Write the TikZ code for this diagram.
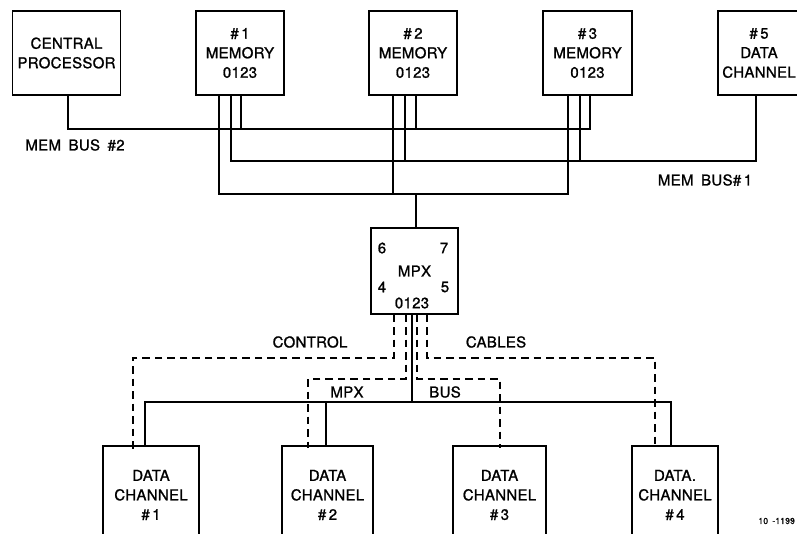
\documentclass[tikz,border=0pt]{standalone}
\usepackage{fontspec}
\newfontfamily\lab{TeX Gyre Heros}[FakeBold=1.2, WordSpace=1.7, LetterSpace=2]
\begin{document}
\begin{tikzpicture}[x=1pt,y=-1pt,
  txt/.style={font=\lab\fontsize{15}{19.5}\selectfont, align=center, inner sep=0pt},
  box/.style={txt, draw, line width=1.1pt, minimum height=84pt},
  dcbox/.style={txt, draw, line width=1.1pt, minimum height=98pt},
  wire/.style={line width=1.1pt},
  dwire/.style={line width=1.1pt, dash pattern=on 7.5pt off 5pt},
  small/.style={font=\lab\fontsize{8.5}{10}\selectfont, inner sep=0pt}]
\clip (0,0) rectangle (797,533);
% top row
\node[box, minimum width=108pt] (cp) at (66.5,53) {CENTRAL\\PROCESSOR};
\node[box, minimum width=88pt] (m1) at (240,53) {\#\,1\\MEMORY\\0123};
\node[box, minimum width=88pt] (m2) at (413,53) {\#\,2\\MEMORY\\0123};
\node[box, minimum width=89pt] (m3) at (587.5,53) {\#\,3\\MEMORY\\0123};
\node[box, minimum width=82pt] (dc5) at (759,53) {\#\,5\\DATA\\CHANNEL};
% MPX
\node[box, minimum width=87pt, minimum height=86pt] (mpx) at (414.5,271) {MPX};
\node[txt] (p6) at (382,248) {6};
\node[txt] (p7) at (444,248) {7};
\node[txt] (p4) at (382,287) {4};
\node[txt] (p5) at (445,287) {5};
\node[txt] (p0) at (412,303) {0123};
% bottom row
\node[dcbox, minimum width=96pt] (dc1) at (151,495) {DATA\\CHANNEL\\\#\,1};
\node[dcbox, minimum width=91pt] (dc2) at (327.5,495) {DATA\\CHANNEL\\\#\,2};
\node[dcbox, minimum width=93pt] (dc3) at (499.5,495) {DATA\\CHANNEL\\\#\,3};
\node[dcbox, minimum width=86pt] (dc4) at (675,495) {DATA.\\CHANNEL\\\#\,4};
% bus junction coordinates
\coordinate (b2a) at (68,129);  \coordinate (b2b) at (590,129);
\coordinate (b1a) at (231,161); \coordinate (b1b) at (756,161);
\coordinate (fa) at (219,194);  \coordinate (fb) at (568,194);
\coordinate (fm) at (416,194);
\coordinate (m2a) at (393,194); \coordinate (m2b) at (405,161); \coordinate (m2c) at (416,129);
\coordinate (m3b) at (580,161);
\coordinate (m1c) at (241,129);
% memory buses
\draw[wire] (cp.south -| b2a) -- (b2a) -- (b2b) -- (m3.south -| b2b);
\draw[wire] (m1.south -| b1a) -- (b1a) -- (b1b) -- (dc5.south -| b1b);
\draw[wire] (m1.south -| fa) -- (fa) -- (fb) -- (m3.south -| fb);
\draw[wire] (m1.south -| m1c) -- (m1c);
\draw[wire] (m2.south -| m2a) -- (m2a);
\draw[wire] (m2.south -| m2b) -- (m2b);
\draw[wire] (m2.south -| m2c) -- (m2c);
\draw[wire] (m3.south -| m3b) -- (m3b);
\draw[wire] (fm) -- (mpx.north -| fm);
% MPX bus (solid)
\coordinate (xb) at (412,402);
\coordinate (xa) at (145,402); \coordinate (xc) at (671,402); \coordinate (x2) at (326,402);
\draw[wire] (mpx.south -| xb) -- (xb);
\draw[wire] (dc1.north -| xa) -- (xa) -- (xc) -- (dc4.north -| xc);
\draw[wire] (x2) -- (dc2.north -| x2);
% control cables (dashed)
\coordinate (c1) at (394,358); \coordinate (c1e) at (133,358);
\coordinate (c2) at (406,379); \coordinate (c2e) at (308,379);
\coordinate (c3) at (417,379); \coordinate (c3e) at (500,379);
\coordinate (c4) at (427,358); \coordinate (c4e) at (655,358);
\draw[dwire] (mpx.south -| c1) -- (c1) -- (c1e) -- ([yshift=-4pt]dc1.north -| c1e);
\draw[dwire] (mpx.south -| c2) -- (c2) -- (c2e) -- ([yshift=-3pt]dc2.north -| c2e);
\draw[dwire] (mpx.south -| c3) -- (c3) -- (c3e) -- ([yshift=-3pt]dc3.north -| c3e);
\draw[dwire] (mpx.south -| c4) -- (c4) -- (c4e) -- ([yshift=-3pt]dc4.north -| c4e);
% labels
\node[txt] (lb2) at (75,145) {MEM BUS \#2};
\node[txt] (lb1) at (705,180) {MEM BUS\#\,1};
\node[txt] (lctl) at (310,342) {CONTROL};
\node[txt] (lcab) at (496,342) {CABLES};
\node[txt] (lmpx) at (347,392) {MPX};
\node[txt] (lbus) at (445,392) {BUS};
\node[small, anchor=east] (fig) at (795,521) {10 -1199};
\end{tikzpicture}
\end{document}
